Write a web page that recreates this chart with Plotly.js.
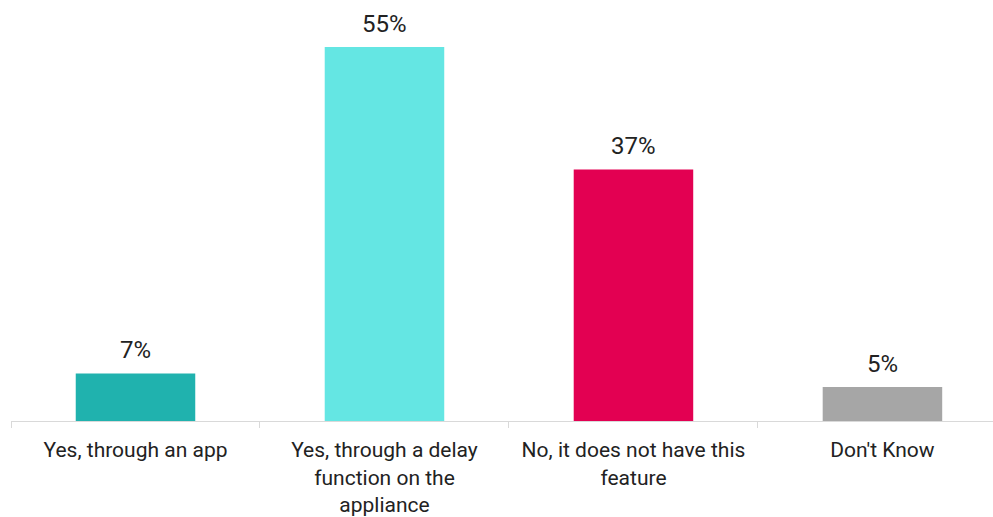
<!DOCTYPE html>
<html>
<head>
<meta charset="utf-8">
<script src="https://cdn.plot.ly/plotly-3.0.1.min.js"></script>
<style>html,body{margin:0;padding:0;background:#fff;}#chart{width:993px;height:517px;}</style>
</head>
<body>
<div id="chart"></div>
<script>
const categories = ["Yes, through an app", "Yes, through a delay<br>function on the<br>appliance", "No, it does not have this<br>feature", "Don't Know"];
const values = [7, 55, 37, 5];
const colors = ["#20B2AE", "#64E6E3", "#E30052", "#A6A6A6"];

const trace = {
  type: 'bar',
  x: categories,
  y: values,
  marker: {color: colors},
  cliponaxis: false,
  hoverinfo: 'skip'
};

const annotations = categories.map((c, i) => ({
  x: c,
  y: values[i],
  xref: 'x',
  yref: 'y',
  text: values[i] + '%',
  showarrow: false,
  yanchor: 'bottom',
  yshift: 7,
  font: {family: 'Roboto, sans-serif', size: 24, color: '#222222'}
}));

const layout = {
  width: 993,
  height: 517,
  margin: {l: 11, r: 0, t: 13, b: 96},
  paper_bgcolor: '#ffffff',
  plot_bgcolor: '#ffffff',
  bargap: 0.52,
  showlegend: false,
  font: {family: 'Roboto, sans-serif', color: '#222222'},
  annotations: annotations,
  xaxis: {
    type: 'category',
    range: [-0.5, 3.444],
    showline: true,
    linecolor: '#d9d9d9',
    linewidth: 1,
    ticks: 'outside',
    tickson: 'boundaries',
    ticklen: 6,
    tickcolor: '#d9d9d9',
    tickfont: {family: 'Roboto, sans-serif', size: 21, color: '#222222'},
    ticklabelstandoff: 10,
    showgrid: false,
    zeroline: false,
    fixedrange: true
  },
  yaxis: {
    range: [0, 60],
    visible: false,
    showgrid: false,
    zeroline: false,
    fixedrange: true
  }
};

Plotly.newPlot('chart', [trace], layout, {displayModeBar: false, staticPlot: true});
</script>
</body>
</html>
